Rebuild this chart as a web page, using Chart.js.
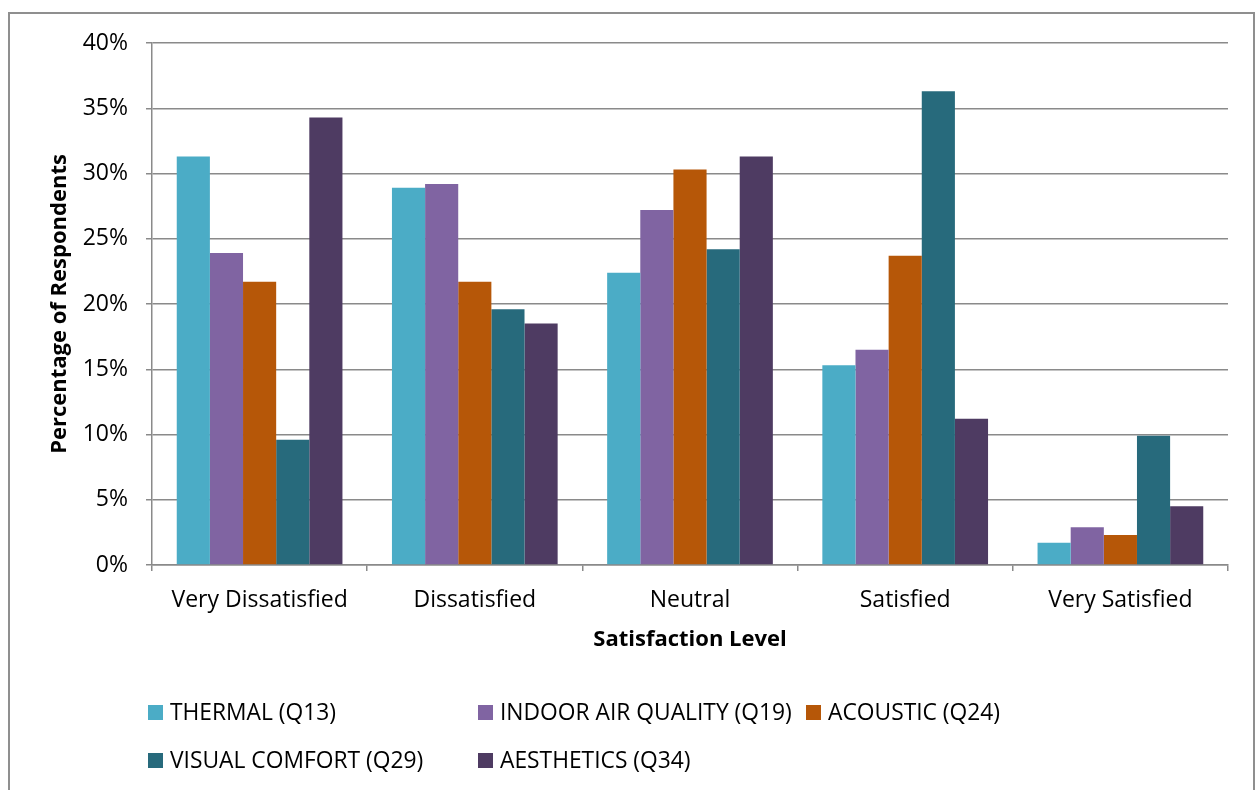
<!DOCTYPE html>
<html>
<head>
<meta charset="utf-8">
<script src="https://cdn.jsdelivr.net/npm/chart.js@4"></script>
<style>
  html, body { margin: 0; padding: 0; background: #fff; }
  body { width: 1260px; height: 790px; position: relative; overflow: hidden; font-family: "Open Sans", sans-serif; }
  #frame { position: absolute; left: 8px; top: 12px; width: 1247px; height: 800px; border: 2px solid #8f8f8f; box-sizing: border-box; }
  #wrap { position: absolute; left: 0; top: 0; width: 1260px; height: 790px; }
  #legend { position: absolute; left: 0; top: 0; width: 1260px; height: 790px; pointer-events: none; }
  .item { position: absolute; display: flex; align-items: center; font-size: 22.8px; color: #000; white-space: nowrap; line-height: 28px; }
  .sw { width: 15px; height: 15px; margin-right: 7px; }
</style>
</head>
<body>
<div id="frame"></div>
<div id="wrap"><canvas id="c" width="1260" height="790"></canvas></div>
<div id="legend"></div>
<script>
// Survey response shares (%) for each satisfaction level
const categories = ['Very Dissatisfied', 'Dissatisfied', 'Neutral', 'Satisfied', 'Very Satisfied'];
const seriesNames = ['THERMAL (Q13)', 'INDOOR AIR QUALITY (Q19)', 'ACOUSTIC (Q24)', 'VISUAL COMFORT (Q29)', 'AESTHETICS (Q34)'];
const thermal    = [31.3, 28.9, 22.4, 15.3, 1.7];
const indoorAir  = [23.9, 29.2, 27.2, 16.5, 2.9];
const acoustic   = [21.7, 21.7, 30.3, 23.7, 2.3];
const visual     = [9.6, 19.6, 24.2, 36.3, 9.9];
const aesthetics = [34.3, 18.5, 31.3, 11.2, 4.5];
const yTicks = [0, 5, 10, 15, 20, 25, 30, 35, 40];

const colors = ['#4BACC6', '#8064A2', '#B65708', '#276A7C', '#4E3B62'];
const seriesValues = [thermal, indoorAir, acoustic, visual, aesthetics];

const FONT = '"Open Sans", sans-serif';
const gridColor = '#8a8a8a';

const chart = new Chart(document.getElementById('c'), {
  type: 'bar',
  data: {
    labels: categories,
    datasets: seriesNames.map((name, i) => ({
      label: name,
      data: seriesValues[i],
      backgroundColor: colors[i],
      borderWidth: 0
    }))
  },
  options: {
    responsive: false,
    animation: false,
    events: [],
    layout: { padding: { left: 0, right: 32, top: 43, bottom: 137 } },
    datasets: { bar: { categoryPercentage: 0.77, barPercentage: 1.0 } },
    plugins: { legend: { display: false }, tooltip: { enabled: false } },
    scales: {
      x: {
        offset: true,
        grid: { offset: true, drawOnChartArea: false, drawTicks: true, tickLength: 6, color: gridColor, lineWidth: 1.5 },
        border: { color: gridColor, width: 1.5 },
        ticks: { color: '#000', font: { family: FONT, size: 23 }, padding: 16, maxRotation: 0 },
        title: { display: true, text: 'Satisfaction Level', color: '#000', font: { family: FONT, size: 22, weight: 'bold' }, padding: { top: 0, bottom: 0 } },
        afterFit: s => { s.height = 88; }
      },
      y: {
        min: 0, max: 40,
        afterBuildTicks: s => { s.ticks = yTicks.map(v => ({ value: v })); },
        grid: { color: gridColor, lineWidth: 1.5, drawTicks: true, tickLength: 6 },
        border: { color: gridColor, width: 1.5 },
        ticks: { color: '#000', font: { family: FONT, size: 23 }, padding: 18, callback: v => v + '%' },
        title: { display: true, text: 'Percentage of Respondents', color: '#000', font: { family: FONT, size: 22, weight: 'bold' }, padding: { top: 47, bottom: 0 } },
        afterFit: s => { s.width = 152; }
      }
    }
  }
});

// Two-row legend laid out in columns
const legendSlots = [
  { x: 148, y: 712 }, { x: 478, y: 712 }, { x: 806, y: 712 },
  { x: 148, y: 760 }, { x: 478, y: 760 }
];
const legendEl = document.getElementById('legend');
chart.data.datasets.forEach((ds, i) => {
  const item = document.createElement('div');
  item.className = 'item';
  item.style.left = legendSlots[i].x + 'px';
  item.style.top = (legendSlots[i].y - 14) + 'px';
  const sw = document.createElement('span');
  sw.className = 'sw';
  sw.style.background = ds.backgroundColor;
  const tx = document.createElement('span');
  tx.textContent = ds.label;
  item.appendChild(sw);
  item.appendChild(tx);
  legendEl.appendChild(item);
});
</script>
</body>
</html>
